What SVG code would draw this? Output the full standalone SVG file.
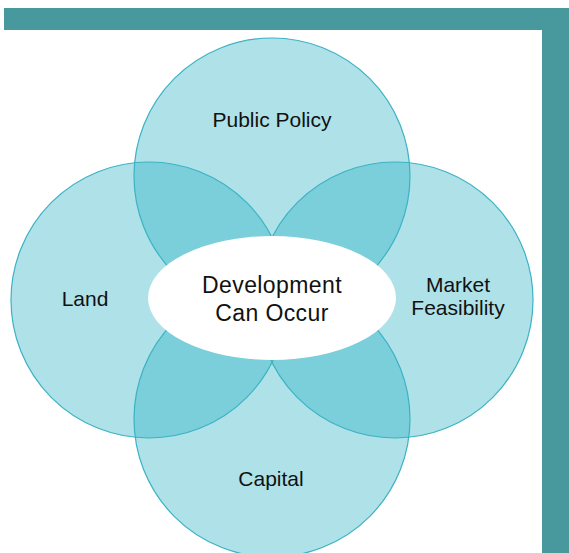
<svg xmlns="http://www.w3.org/2000/svg" width="569" height="553" viewBox="0 0 569 553">
  <style>
    .frame { fill: #47999d; }
    .disc { fill: #afe1e8; }
    .lens { fill: #7acfda; }
    .ring { fill: none; stroke: #3cb2c4; stroke-width: 1.2; }
    .label { font-family: "Liberation Sans", Arial, sans-serif; font-size: 21px; fill: #111; text-anchor: middle; }
    .core { font-family: "Liberation Sans", Arial, sans-serif; font-size: 23px; fill: #111; text-anchor: middle; letter-spacing: 0.4px; }
  </style>
  <defs>
    <circle id="cTop" cx="272" cy="176" r="138"/>
    <circle id="cBottom" cx="272" cy="419" r="138"/>
    <circle id="cLeft" cx="149" cy="300" r="138"/>
    <circle id="cRight" cx="395" cy="300" r="138"/>
    <clipPath id="clipLeft"><use href="#cLeft"/></clipPath>
    <clipPath id="clipRight"><use href="#cRight"/></clipPath>
  </defs>

  <!-- corner frame -->
  <g id="frame">
    <rect class="frame" x="4" y="8" width="565" height="22"/>
    <rect class="frame" x="542" y="8" width="27" height="545"/>
  </g>

  <!-- circle fills -->
  <g id="fills">
    <use href="#cTop" class="disc"/>
    <use href="#cBottom" class="disc"/>
    <use href="#cLeft" class="disc"/>
    <use href="#cRight" class="disc"/>
  </g>

  <!-- overlapping regions -->
  <g id="overlaps">
    <use href="#cTop" class="lens" clip-path="url(#clipLeft)"/>
    <use href="#cTop" class="lens" clip-path="url(#clipRight)"/>
    <use href="#cBottom" class="lens" clip-path="url(#clipLeft)"/>
    <use href="#cBottom" class="lens" clip-path="url(#clipRight)"/>
  </g>

  <!-- circle outlines -->
  <g id="outlines">
    <use href="#cTop" class="ring"/>
    <use href="#cBottom" class="ring"/>
    <use href="#cLeft" class="ring"/>
    <use href="#cRight" class="ring"/>
  </g>

  <g id="public-policy">
    <text class="label" x="272" y="127">Public Policy</text>
  </g>
  <g id="land">
    <text class="label" x="85" y="306">Land</text>
  </g>
  <g id="market-feasibility">
    <text class="label" x="458" y="292">Market</text>
    <text class="label" x="458" y="315">Feasibility</text>
  </g>
  <g id="capital">
    <text class="label" x="271" y="486">Capital</text>
  </g>

  <g id="center">
    <ellipse cx="272" cy="298" rx="124" ry="62" fill="#ffffff"/>
    <text class="core" x="272" y="293">Development</text>
    <text class="core" x="272" y="321">Can Occur</text>
  </g>
</svg>
